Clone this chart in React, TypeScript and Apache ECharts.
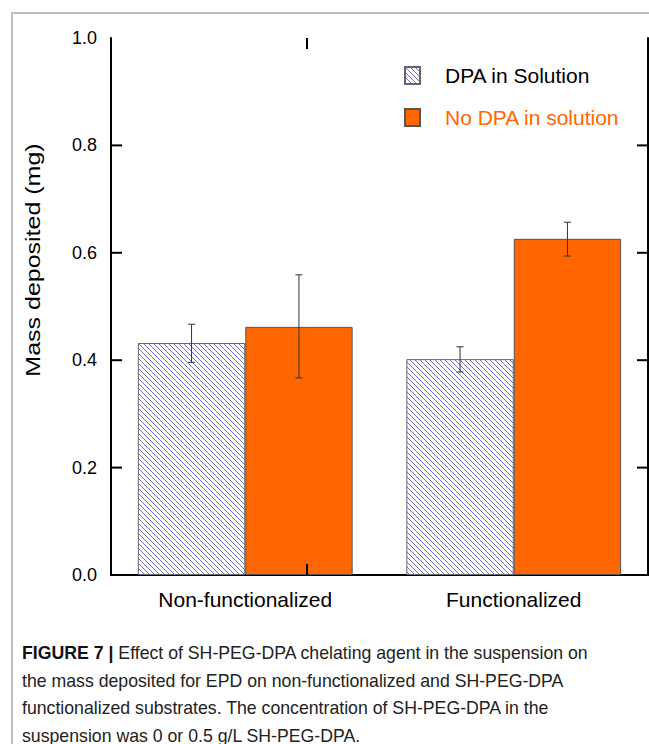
import React, { useEffect, useRef } from "react";
import * as echarts from "echarts";

const categories = ["Non-functionalized", "Functionalized"];
const seriesNames = ["DPA in Solution", "No DPA in solution"];
const dpaValues = [0.432, 0.402];
const noDpaValues = [0.462, 0.626];
const dpaErrLow = [0.396, 0.378];
const dpaErrHigh = [0.467, 0.425];
const noDpaErrLow = [0.367, 0.594];
const noDpaErrHigh = [0.559, 0.657];
const yTicks = ["0.0", "0.2", "0.4", "0.6", "0.8", "1.0"];
const innerYTicks = [0.2, 0.4, 0.6, 0.8];
const innerXTickFraction = [0.365];
const yAxisTitle = "Mass deposited (mg)";
const captionLines = [
  "Effect of SH-PEG-DPA chelating agent in the suspension on",
  "the mass deposited for EPD on non-functionalized and SH-PEG-DPA",
  "functionalized substrates. The concentration of SH-PEG-DPA in the",
  "suspension was 0 or 0.5 g/L SH-PEG-DPA.",
];

function makeHatch(): HTMLCanvasElement {
  const c = document.createElement("canvas");
  const s = 5;
  c.width = s;
  c.height = s;
  const ctx = c.getContext("2d")!;
  ctx.fillStyle = "#ffffff";
  ctx.fillRect(0, 0, s, s);
  ctx.strokeStyle = "#6e6ed8";
  ctx.lineWidth = 1;
  ctx.beginPath();
  ctx.moveTo(-1, -1);
  ctx.lineTo(s + 1, s + 1);
  ctx.moveTo(-1, s - 1);
  ctx.lineTo(1, s + 1);
  ctx.moveTo(s - 1, -1);
  ctx.lineTo(s + 1, 1);
  ctx.stroke();
  return c;
}

export default function App() {
  const ref = useRef<HTMLDivElement>(null);
  useEffect(() => {
    const chart = echarts.init(ref.current!, null, { renderer: "svg" });
    const hatch = { image: makeHatch(), repeat: "repeat" };
    const font = "'Liberation Sans', Arial, sans-serif";
    const lineSt = { color: "#000", width: 2 };
    const errData = (lo: number[], hi: number[], sign: number) =>
      lo.map((l, i) => [i, l, hi[i], sign]);
    const renderErr = (params: any, api: any) => {
      const c = api.value(0);
      const lo = api.coord([c, api.value(1)]);
      const hi = api.coord([c, api.value(2)]);
      const bw = api.size([1, 0])[0] * 0.4;
      const x = lo[0] + (api.value(3) * bw) / 2;
      const cap = 3.5;
      const st = { stroke: "#333", lineWidth: 1 };
      return {
        type: "group",
        children: [
          { type: "line", shape: { x1: x, y1: lo[1], x2: x, y2: hi[1] }, style: st },
          { type: "line", shape: { x1: x - cap, y1: lo[1], x2: x + cap, y2: lo[1] }, style: st },
          { type: "line", shape: { x1: x - cap, y1: hi[1], x2: x + cap, y2: hi[1] }, style: st },
        ],
      };
    };
    // inward-pointing frame ticks: kind 0 left, 1 right, 2 top, 3 bottom
    const tickLen = 11;
    const renderTick = (params: any, api: any) => {
      const cs = params.coordSys;
      const kind = api.value(2);
      const st = { stroke: "#000", lineWidth: 2 };
      if (kind === 0 || kind === 1) {
        const y = api.coord([0, api.value(1)])[1];
        const x0 = kind === 0 ? cs.x : cs.x + cs.width - tickLen;
        return { type: "line", shape: { x1: x0, y1: y, x2: x0 + tickLen, y2: y }, style: st };
      }
      const x = cs.x + api.value(1) * cs.width;
      const y0 = kind === 2 ? cs.y : cs.y + cs.height - tickLen;
      return { type: "line", shape: { x1: x, y1: y0, x2: x, y2: y0 + tickLen }, style: st };
    };
    const tickData = [
      ...innerYTicks.map((v) => [0, v, 0]),
      ...innerYTicks.map((v) => [0, v, 1]),
      ...innerXTickFraction.map((f) => [0, f, 2]),
      ...innerXTickFraction.map((f) => [0, f, 3]),
    ];
    chart.setOption({
      animation: false,
      backgroundColor: "#ffffff",
      textStyle: { fontFamily: font },
      grid: { left: 111, top: 38, right: 1, bottom: 169, containLabel: false },
      xAxis: [
        {
          type: "category",
          data: categories,
          position: "bottom",
          axisLine: { lineStyle: lineSt },
          axisTick: { show: false },
          axisLabel: { color: "#000", fontSize: 21, margin: 14, fontFamily: font },
        },
        {
          type: "value",
          position: "top",
          min: 0,
          max: 1,
          axisLine: { show: true, lineStyle: lineSt },
          axisTick: { show: false },
          axisLabel: { show: false },
          splitLine: { show: false },
        },
      ],
      yAxis: [
        {
          type: "value",
          min: 0,
          max: 1,
          interval: 0.2,
          position: "left",
          axisLine: { show: true, lineStyle: lineSt },
          axisTick: { show: false },
          axisLabel: {
            color: "#000",
            fontSize: 18,
            margin: 14,
            fontFamily: font,
            formatter: (v: number) => yTicks[Math.round(v * 5)],
          },
          splitLine: { show: false },
        },
        {
          type: "value",
          min: 0,
          max: 1,
          interval: 0.2,
          position: "right",
          axisLine: { show: true, lineStyle: lineSt },
          axisTick: { show: false },
          axisLabel: { show: false },
          splitLine: { show: false },
        },
      ],
      legend: {
        orient: "vertical",
        left: 399,
        top: 60,
        itemWidth: 15,
        itemHeight: 17,
        itemGap: 21,
        icon: "rect",
        data: [
          { name: seriesNames[0], textStyle: { color: "#000" } },
          { name: seriesNames[1], textStyle: { color: "#ff6600" } },
        ],
        textStyle: { fontSize: 21, fontFamily: font, padding: [0, 0, 0, 20] },
      },
      graphic: [
        {
          type: "rect",
          shape: { x: 12, y: 13, width: 800, height: 900 },
          style: { fill: "none", stroke: "#bdbdbd", lineWidth: 2 },
          silent: true,
          z: -10,
        },
        {
          type: "text",
          x: 33,
          y: 260,
          rotation: Math.PI / 2,
          scaleX: 1.25,
          style: {
            text: yAxisTitle,
            fontSize: 20,
            fontFamily: font,
            fill: "#000",
            align: "center",
            verticalAlign: "middle",
          },
        },
        ...captionLines.map((line, i) => ({
          type: "text",
          x: 22,
          y: 653 + i * 27.5,
          style: {
            text: i === 0 ? "{b|FIGURE 7 |} " + line : line,
            fontSize: 17.7,
            fontFamily: font,
            fill: "#222",
            verticalAlign: "middle",
            rich: { b: { fontWeight: "bold", fontSize: 17.7, fontFamily: font, fill: "#111" } },
          },
        })),
      ],
      series: [
        {
          name: seriesNames[0],
          type: "bar",
          data: dpaValues,
          barWidth: "40%",
          barGap: "0%",
          itemStyle: { color: hatch, borderColor: "#666", borderWidth: 1 },
        },
        {
          name: seriesNames[1],
          type: "bar",
          data: noDpaValues,
          barWidth: "40%",
          barGap: "0%",
          itemStyle: { color: "#ff6600", borderColor: "#555", borderWidth: 1 },
        },
        {
          type: "custom",
          renderItem: renderErr,
          data: errData(dpaErrLow, dpaErrHigh, -1),
          z: 10,
        },
        {
          type: "custom",
          renderItem: renderErr,
          data: errData(noDpaErrLow, noDpaErrHigh, 1),
          z: 10,
        },
        {
          type: "custom",
          renderItem: renderTick,
          data: tickData,
          clip: false,
          silent: true,
          z: 20,
        },
      ],
    });
    return () => chart.dispose();
  }, []);
  return (
    <div
      ref={ref}
      style={{ position: "fixed", left: 0, top: 0, width: 649, height: 744, background: "#fff" }}
    />
  );
}
